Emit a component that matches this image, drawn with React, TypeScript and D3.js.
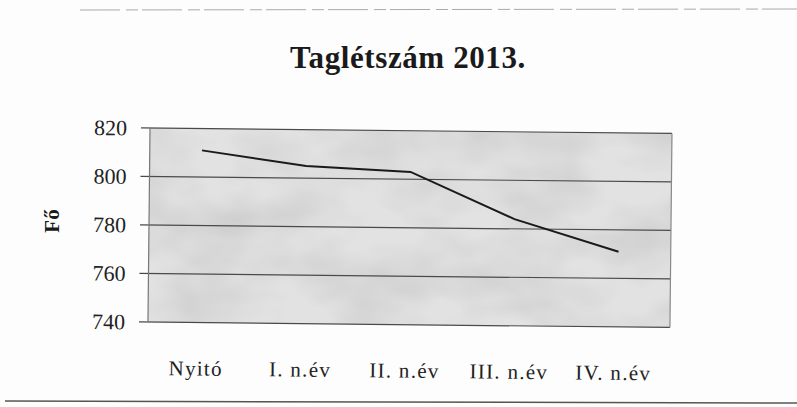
import React, { useRef, useEffect } from 'react';
import * as d3 from 'd3';

const categories = ['Nyitó', 'I. n.év', 'II. n.év', 'III. n.év', 'IV. n.év'];
const values = [811, 805, 803, 784, 771];
const yTicks = [740, 760, 780, 800, 820];

const App = () => {
  const ref = useRef<SVGSVGElement>(null);

  useEffect(() => {
    const width = 797;
    const height = 407;
    const svg = d3.select(ref.current);
    svg.selectAll('*').remove();
    svg.attr('width', width).attr('height', height);

    // paper
    svg.append('rect').attr('width', width).attr('height', height).attr('fill', '#fdfdfd');

    // scanned look: faint page edges
    svg.append('line').attr('x1', 80).attr('x2', 797).attr('y1', 10).attr('y2', 9)
      .attr('stroke', '#aaa').attr('stroke-width', 1).attr('stroke-dasharray', '40,6,12,4');
    svg.append('line').attr('x1', 5).attr('x2', 797).attr('y1', 401).attr('y2', 403)
      .attr('stroke', '#555').attr('stroke-width', 1.5);

    const defs = svg.append('defs');
    const filter = defs.append('filter').attr('id', 'mottle')
      .attr('x', 0).attr('y', 0).attr('width', 1).attr('height', 1);
    filter.append('feTurbulence').attr('type', 'fractalNoise')
      .attr('baseFrequency', '0.012 0.02').attr('numOctaves', 3).attr('seed', 7).attr('result', 'n');
    filter.append('feColorMatrix').attr('in', 'n').attr('type', 'matrix')
      .attr('values', '0 0 0 0 0.55  0 0 0 0 0.55  0 0 0 0 0.55  0 0 0 -1.1 0.75')
      .attr('result', 'c');
    filter.append('feComposite').attr('in', 'c').attr('in2', 'SourceGraphic').attr('operator', 'in');

    const left = 150;
    const right = 672;
    const top = 128;
    const bottom = 322;

    // the scan is slightly tilted
    const g = svg.append('g').attr('transform', 'rotate(0.6,150,128)');

    const x = d3.scaleBand().domain(categories).range([left, right]);
    const y = d3.scaleLinear().domain([740, 820]).range([bottom, top]);

    // plot area background
    g.append('rect').attr('x', left).attr('y', top)
      .attr('width', right - left).attr('height', bottom - top).attr('fill', '#e2e2e2');
    g.append('rect').attr('x', left).attr('y', top)
      .attr('width', right - left).attr('height', bottom - top).attr('fill', '#fff')
      .attr('filter', 'url(#mottle)');

    // gridlines with small outer ticks
    g.append('g').selectAll('line').data(yTicks).enter().append('line')
      .attr('x1', left - 9).attr('x2', right)
      .attr('y1', d => y(d)).attr('y2', d => y(d))
      .attr('stroke', '#4a4a4a').attr('stroke-width', 1.2);

    // side borders
    g.append('line').attr('x1', left).attr('x2', left).attr('y1', top).attr('y2', bottom)
      .attr('stroke', '#777').attr('stroke-width', 1.2);
    g.append('line').attr('x1', right).attr('x2', right).attr('y1', top).attr('y2', bottom)
      .attr('stroke', '#888').attr('stroke-width', 1.2);

    // y tick labels
    g.append('g').selectAll('text').data(yTicks).enter().append('text')
      .attr('x', left - 23).attr('y', d => y(d)).attr('dy', '0.35em')
      .attr('text-anchor', 'end')
      .style('font-family', '"Liberation Serif", serif').style('font-size', '22px').style('fill', '#222')
      .text(d => d);

    // x labels
    g.append('g').selectAll('text').data(categories).enter().append('text')
      .attr('x', d => (x(d) as number) + x.bandwidth() / 2 - 4).attr('y', 375)
      .attr('text-anchor', 'middle')
      .style('font-family', '"Liberation Serif", serif').style('font-size', '21px')
      .style('letter-spacing', '1.3px').style('fill', '#222')
      .text(d => d);

    // line
    const line = d3.line<number>()
      .x((_, i) => (x(categories[i]) as number) + x.bandwidth() / 2)
      .y(d => y(d));
    g.append('path').datum(values).attr('d', line)
      .attr('fill', 'none').attr('stroke', '#1a1a1a').attr('stroke-width', 2);

    // title
    svg.append('text').attr('x', 408).attr('y', 68).attr('text-anchor', 'middle')
      .style('font-family', '"Liberation Serif", serif').style('font-size', '31px')
      .style('font-weight', 'bold').style('letter-spacing', '0.6px').style('fill', '#1a1a1a')
      .text('Taglétszám 2013.');

    // y axis title
    svg.append('text').attr('transform', 'translate(59,221) rotate(-90)')
      .attr('text-anchor', 'middle')
      .style('font-family', '"Liberation Serif", serif').style('font-size', '21px')
      .style('font-weight', 'bold').style('fill', '#1a1a1a')
      .text('Fő');
  }, []);

  return (
    <div style={{ position: 'absolute', left: 0, top: 0 }}>
      <svg ref={ref}></svg>
    </div>
  );
};

export default App;
